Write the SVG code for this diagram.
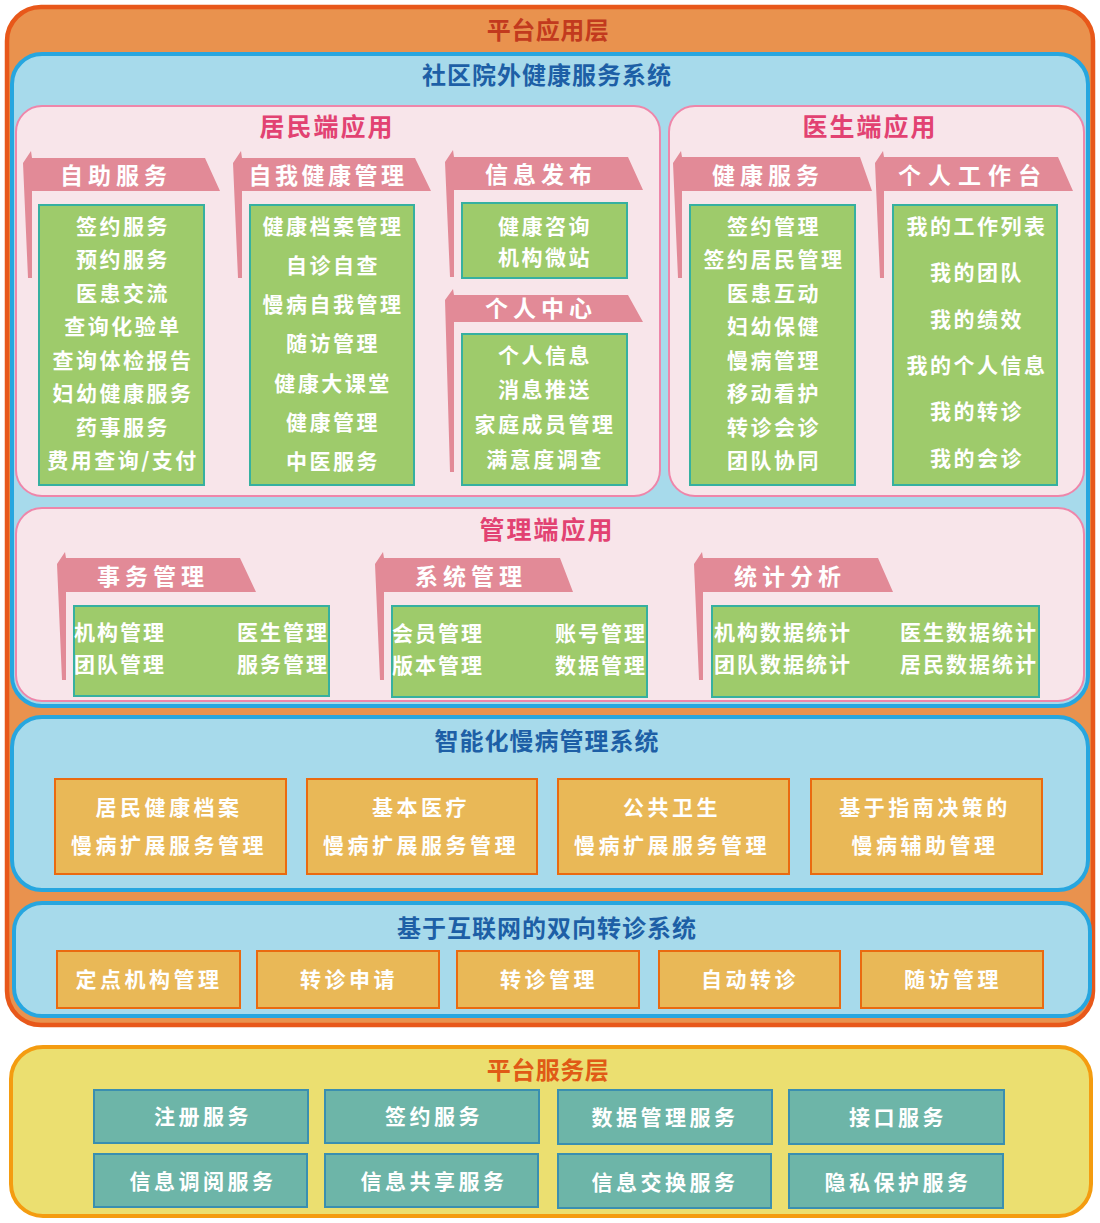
<svg xmlns="http://www.w3.org/2000/svg" width="1100" height="1223" viewBox="0 0 1100 1223">
<style>
text{font-family:"Noto Sans CJK SC","Noto Sans CJK JP",sans-serif;dominant-baseline:central;transform:translate(0px,-2px)}
.layer{fill:#E9924E;stroke:#E8581A;stroke-width:4.5}
.blue{fill:#A7DAEB;stroke:#27A6DF;stroke-width:4}
.pink{fill:#F8E5EA;stroke:#EE86AA;stroke-width:2}
.yellow{fill:#EBDF70;stroke:#F49C10;stroke-width:4}
.rib{fill:#E28A97}
.green{fill:#9ECB6B;stroke:#36B0A0;stroke-width:2}
.ora{fill:#E9B857;stroke:#EA6A10;stroke-width:2}
.teal{fill:#6DB5A8;stroke:#3A8FB0;stroke-width:2}
.t1{font-size:24px;font-weight:bold;fill:#C23A1E;text-anchor:middle;letter-spacing:0.5px}
.t1b{font-size:24px;font-weight:bold;fill:#E05A16;text-anchor:middle;letter-spacing:0.5px}
.tb{font-size:24px;font-weight:bold;fill:#1D5FA6;text-anchor:middle;letter-spacing:1px}
.tp{font-size:25px;font-weight:bold;fill:#E24272;text-anchor:middle;letter-spacing:2px}
.tr{font-size:23px;font-weight:bold;fill:#fff;text-anchor:middle;letter-spacing:5px}
.it{font-size:21px;font-weight:bold;fill:#fff;text-anchor:middle;letter-spacing:2.5px}
.itl{font-size:21px;font-weight:bold;fill:#fff;letter-spacing:2px}
.itr{font-size:21px;font-weight:bold;fill:#fff;text-anchor:end;letter-spacing:2px}
.bx{font-size:21px;font-weight:bold;fill:#fff;text-anchor:middle;letter-spacing:3.5px}
</style>

<g id="app-layer">
<rect class="layer" x="7" y="7" width="1086" height="1018" rx="34"/>
<text class="t1" x="548" y="30">平台应用层</text>
</g>

<g id="community-system">
<rect class="blue" x="12" y="54" width="1076" height="652" rx="30"/>
<text class="tb" x="547" y="75">社区院外健康服务系统</text>
</g>

<g id="resident-app">
<rect class="pink" x="16" y="106" width="644" height="390" rx="26"/>
<text class="tp" x="327" y="127">居民端应用</text>
</g>

<g id="doctor-app">
<rect class="pink" x="669" y="106" width="415" height="390" rx="26"/>
<text class="tp" x="870" y="127">医生端应用</text>
</g>

<g id="admin-app">
<rect class="pink" x="16" y="508" width="1068" height="193" rx="26"/>
<text class="tp" x="547" y="530">管理端应用</text>
</g>

<g id="self-service">
<path class="rib" d="M31,151 L32,158 L205,158 L220,191 L32,191 L32,278 L28,278 L23,163 Z"/>
<text class="tr" x="116" y="176">自助服务</text>
<rect class="green" x="39" y="205" width="165" height="280"/>
<text class="it" x="123" y="227">签约服务</text>
<text class="it" x="123" y="260">预约服务</text>
<text class="it" x="123" y="294">医患交流</text>
<text class="it" x="123" y="327">查询化验单</text>
<text class="it" x="123" y="361">查询体检报告</text>
<text class="it" x="123" y="394">妇幼健康服务</text>
<text class="it" x="123" y="428">药事服务</text>
<text class="it" x="123" y="461">费用查询/支付</text>
</g>

<g id="self-health">
<path class="rib" d="M241,151 L242,158 L415,158 L431,191 L242,191 L242,278 L238,278 L233,163 Z"/>
<text class="tr" x="328" y="176" style="letter-spacing:3.5px">自我健康管理</text>
<rect class="green" x="250" y="205" width="164" height="280"/>
<text class="it" x="333" y="227">健康档案管理</text>
<text class="it" x="333" y="266">自诊自查</text>
<text class="it" x="333" y="305">慢病自我管理</text>
<text class="it" x="333" y="344">随访管理</text>
<text class="it" x="333" y="384">健康大课堂</text>
<text class="it" x="333" y="423">健康管理</text>
<text class="it" x="333" y="462">中医服务</text>
</g>

<g id="info-publish">
<path class="rib" d="M453,150 L454,157 L628,157 L643,190 L454,190 L454,277 L450,277 L445,162 Z"/>
<text class="tr" x="541" y="175">信息发布</text>
<rect class="green" x="462" y="203" width="165" height="75"/>
<text class="it" x="545" y="227">健康咨询</text>
<text class="it" x="545" y="258">机构微站</text>
</g>

<g id="personal-center">
<path class="rib" d="M453,289 L454,295 L628,295 L643,322 L454,322 L454,472 L450,472 L445,300 Z"/>
<text class="tr" x="541" y="309">个人中心</text>
<rect class="green" x="462" y="334" width="165" height="151"/>
<text class="it" x="545" y="356">个人信息</text>
<text class="it" x="545" y="390">消息推送</text>
<text class="it" x="545" y="425">家庭成员管理</text>
<text class="it" x="545" y="460">满意度调查</text>
</g>

<g id="health-service">
<path class="rib" d="M681,151 L682,157 L860,157 L872,191 L682,191 L682,278 L678,278 L673,163 Z"/>
<text class="tr" x="768" y="176">健康服务</text>
<rect class="green" x="690" y="205" width="165" height="280"/>
<text class="it" x="774" y="227">签约管理</text>
<text class="it" x="774" y="260">签约居民管理</text>
<text class="it" x="774" y="294">医患互动</text>
<text class="it" x="774" y="327">妇幼保健</text>
<text class="it" x="774" y="361">慢病管理</text>
<text class="it" x="774" y="394">移动看护</text>
<text class="it" x="774" y="428">转诊会诊</text>
<text class="it" x="774" y="461">团队协同</text>
</g>

<g id="workbench">
<path class="rib" d="M883,151 L884,157 L1058,157 L1073,191 L884,191 L884,278 L880,278 L875,163 Z"/>
<text class="tr" x="973" y="176" style="letter-spacing:7px">个人工作台</text>
<rect class="green" x="893" y="205" width="164" height="280"/>
<text class="it" x="977" y="227">我的工作列表</text>
<text class="it" x="977" y="273">我的团队</text>
<text class="it" x="977" y="320">我的绩效</text>
<text class="it" x="977" y="366">我的个人信息</text>
<text class="it" x="977" y="412">我的转诊</text>
<text class="it" x="977" y="459">我的会诊</text>
</g>

<g id="affairs">
<path class="rib" d="M65,552 L66,558 L240,558 L256,592 L66,592 L66,680 L62,680 L57,564 Z"/>
<text class="tr" x="153" y="577">事务管理</text>
<rect class="green" x="74" y="606" width="255" height="90"/>
<text class="itl" x="74" y="633">机构管理</text>
<text class="itl" x="74" y="665">团队管理</text>
<text class="itr" x="329" y="633">医生管理</text>
<text class="itr" x="329" y="665">服务管理</text>
</g>

<g id="system-mgmt">
<path class="rib" d="M383,552 L384,558 L560,558 L573,592 L384,592 L384,680 L380,680 L375,564 Z"/>
<text class="tr" x="471" y="577">系统管理</text>
<rect class="green" x="392" y="606" width="255" height="91"/>
<text class="itl" x="392" y="634">会员管理</text>
<text class="itl" x="392" y="666">版本管理</text>
<text class="itr" x="647" y="634">账号管理</text>
<text class="itr" x="647" y="666">数据管理</text>
</g>

<g id="statistics">
<path class="rib" d="M702,552 L703,558 L878,558 L893,592 L703,592 L703,680 L699,680 L694,564 Z"/>
<text class="tr" x="790" y="577">统计分析</text>
<rect class="green" x="712" y="606" width="327" height="91"/>
<text class="itl" x="714" y="633">机构数据统计</text>
<text class="itl" x="714" y="665">团队数据统计</text>
<text class="itr" x="1038" y="633">医生数据统计</text>
<text class="itr" x="1038" y="665">居民数据统计</text>
</g>

<g id="chronic-system">
<rect class="blue" x="12" y="717" width="1076" height="173" rx="30"/>
<text class="tb" x="547" y="741">智能化慢病管理系统</text>
</g>
<g id="c1">
<rect class="ora" x="55" y="779" width="231" height="95"/>
<text class="bx" x="169" y="808">居民健康档案</text>
<text class="bx" x="169" y="846">慢病扩展服务管理</text>
</g>
<g id="c2">
<rect class="ora" x="307" y="779" width="230" height="95"/>
<text class="bx" x="421" y="808">基本医疗</text>
<text class="bx" x="421" y="846">慢病扩展服务管理</text>
</g>
<g id="c3">
<rect class="ora" x="558" y="779" width="231" height="95"/>
<text class="bx" x="672" y="808">公共卫生</text>
<text class="bx" x="672" y="846">慢病扩展服务管理</text>
</g>
<g id="c4">
<rect class="ora" x="811" y="779" width="231" height="95"/>
<text class="bx" x="925" y="808">基于指南决策的</text>
<text class="bx" x="925" y="846">慢病辅助管理</text>
</g>

<g id="referral-system">
<rect class="blue" x="14" y="903" width="1076" height="113" rx="28"/>
<text class="tb" x="547" y="928">基于互联网的双向转诊系统</text>
</g>
<g id="r1"><rect class="ora" x="57" y="951" width="183" height="57"/><text class="bx" x="149" y="980">定点机构管理</text></g>
<g id="r2"><rect class="ora" x="257" y="951" width="182" height="57"/><text class="bx" x="349" y="980">转诊申请</text></g>
<g id="r3"><rect class="ora" x="457" y="951" width="182" height="57"/><text class="bx" x="549" y="980">转诊管理</text></g>
<g id="r4"><rect class="ora" x="659" y="951" width="181" height="57"/><text class="bx" x="750" y="980">自动转诊</text></g>
<g id="r5"><rect class="ora" x="861" y="951" width="182" height="57"/><text class="bx" x="953" y="980">随访管理</text></g>

<g id="service-layer">
<rect class="yellow" x="11" y="1047" width="1080" height="169" rx="32"/>
<text class="t1b" x="548" y="1070">平台服务层</text>
</g>
<g id="s1"><rect class="teal" x="94" y="1090" width="214" height="53"/><text class="bx" x="203" y="1117">注册服务</text></g>
<g id="s2"><rect class="teal" x="325" y="1090" width="214" height="53"/><text class="bx" x="434" y="1117">签约服务</text></g>
<g id="s3"><rect class="teal" x="558" y="1090" width="214" height="54"/><text class="bx" x="665" y="1118">数据管理服务</text></g>
<g id="s4"><rect class="teal" x="789" y="1090" width="215" height="54"/><text class="bx" x="898" y="1118">接口服务</text></g>
<g id="s5"><rect class="teal" x="94" y="1154" width="213" height="53"/><text class="bx" x="203" y="1182">信息调阅服务</text></g>
<g id="s6"><rect class="teal" x="325" y="1154" width="213" height="53"/><text class="bx" x="434" y="1182">信息共享服务</text></g>
<g id="s7"><rect class="teal" x="558" y="1154" width="213" height="54"/><text class="bx" x="665" y="1183">信息交换服务</text></g>
<g id="s8"><rect class="teal" x="789" y="1154" width="214" height="54"/><text class="bx" x="898" y="1183">隐私保护服务</text></g>

<g id="connectors"></g>
</svg>
